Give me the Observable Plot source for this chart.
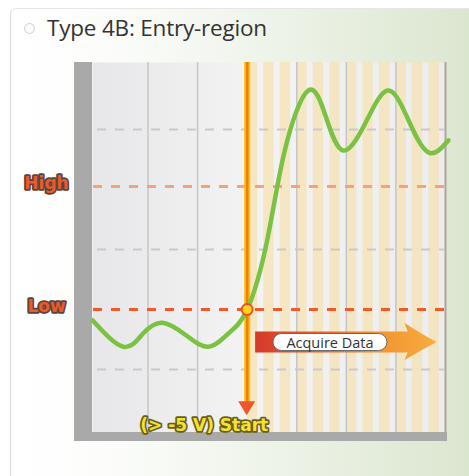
<!DOCTYPE html>
<html><head><meta charset="utf-8">
<script src="https://cdn.jsdelivr.net/npm/d3@7"></script>
<script src="https://cdn.jsdelivr.net/npm/@observablehq/plot@0.6"></script>
<style>
html,body{margin:0;padding:0;background:#fff;width:469px;height:476px;overflow:hidden;}
#card{position:absolute;left:10px;top:8px;width:459px;height:468px;border-left:1px solid #dadada;border-top:1px solid #e6e6e6;border-top-left-radius:6px;background:linear-gradient(to right,#ffffff 0%,#fcfdfb 20%,#eff4ea 55%,#dbe6cf 100%);}
#radio{position:absolute;left:24px;top:23px;width:9px;height:9px;border:1px solid #cfcfcf;border-radius:50%;background:#fbfbfb;}
#title{position:absolute;left:47px;top:12px;font:22.5px "Open Sans";color:#333;white-space:nowrap;letter-spacing:-0.2px;}
#chart{position:absolute;left:0;top:0;}
</style></head>
<body>
<div id="card"></div>
<div id="radio"></div>
<div id="title">Type 4B: Entry-region</div>
<div id="chart"></div>
<script>
// ---- data ----
const waveX = [-0.12, 0.50, 0.90, 1.29, 1.75, 2.22, 2.62, 3.00, 3.40, 3.75, 4.23, 4.60, 4.94, 5.38, 5.83, 6.24, 6.65, 7.06];
const waveY = [1.82, 1.38, 1.60, 1.78, 1.58, 1.38, 1.60, 2.00, 3.14, 4.62, 5.65, 5.18, 4.65, 5.10, 5.65, 5.18, 4.62, 4.82];
const gridX = [1, 2, 4, 5, 6];
const frameRightX = [7];
const grayLevels = [1, 3, 5];
const thresholdLabels = ["High", "Low"];
const thresholdValues = [4.05, 2];
const triggerX = 3;
const triggerY = 2;
const triggerArrow = [0.43, 0.23]; // line end, arrow tip
const startLabel = "(> -5 V) Start";
const stripeStarts = [3, 3.333, 3.667, 4, 4.333, 4.667, 5, 5.333, 5.667, 6, 6.333, 6.667];
const stripeWidth = 0.21;
const acquireLabel = "Acquire Data";
const acquireX = [3.17, 6.83];
const acquireY = [1.45];
const acquireLabelX = [4.68];

const thresholdColors = ["#f3a27c", "#f25a2a"];

// ---- render helpers ----
const defsMark = () => {
  const g = d3.create("svg:g");
  const defs = g.append("defs");
  const bg = defs.append("linearGradient").attr("id", "plotBg").attr("x1", 0).attr("x2", 1).attr("y1", 0).attr("y2", 0);
  bg.append("stop").attr("offset", "0%").attr("stop-color", "#e7e7e9");
  bg.append("stop").attr("offset", "45%").attr("stop-color", "#f3f3f4");
  bg.append("stop").attr("offset", "100%").attr("stop-color", "#ededef");
  const ag = defs.append("linearGradient").attr("id", "acqGrad").attr("x1", 0).attr("x2", 1).attr("y1", 0).attr("y2", 0);
  ag.append("stop").attr("offset", "0%").attr("stop-color", "#d43a2c");
  ag.append("stop").attr("offset", "25%").attr("stop-color", "#e2552a");
  ag.append("stop").attr("offset", "70%").attr("stop-color", "#f29530");
  ag.append("stop").attr("offset", "100%").attr("stop-color", "#f7ad40");
  return g.node();
};

const frameBars = (index, scales, values, dim) => {
  const g = d3.create("svg:g");
  const L = dim.marginLeft, B = dim.height - dim.marginBottom, R = dim.width - dim.marginRight, T = dim.marginTop;
  g.append("rect").attr("x", L - 18).attr("y", T).attr("width", 18).attr("height", B - T + 9).attr("fill", "#a9a9a9");
  g.append("rect").attr("x", L - 18).attr("y", B).attr("width", R - L + 20).attr("height", 9).attr("fill", "#a9a9a9");
  return g.node();
};

const triggerHead = (index, scales) => {
  const X = scales.x(triggerX), Y0 = scales.y(triggerArrow[0]), Y1 = scales.y(triggerArrow[1]);
  return d3.create("svg:path")
    .attr("d", `M${X - 8.5},${Y0 - 2} L${X + 8.5},${Y0 - 2} L${X},${Y1} Z`)
    .attr("fill", "#f0562a").node();
};

const acquireArrow = (index, scales) => {
  const X1 = scales.x(acquireX[0]), X2 = scales.x(acquireX[1]), Y = scales.y(acquireY[0]);
  const hb = X2 - 29;
  const g = d3.create("svg:g");
  g.append("path")
    .attr("d", `M${X1},${Y - 10.5} L${hb},${Y - 10.5} L${hb - 3},${Y - 19} Q${hb + 14},${Y - 8} ${X2},${Y} Q${hb + 14},${Y + 8} ${hb - 3},${Y + 18} L${hb},${Y + 10.5} L${X1},${Y + 10.5} Z`)
    .attr("fill", "url(#acqGrad)");
  const CX = scales.x(acquireLabelX[0]);
  g.append("rect").attr("x", CX - 57).attr("y", Y - 8.5).attr("width", 114).attr("height", 17)
    .attr("rx", 8.5).attr("fill", "#ffffff").attr("stroke", "#6a6a6a").attr("stroke-width", 1);
  g.append("text").attr("x", CX).attr("y", Y + 0.5).attr("text-anchor", "middle").attr("dominant-baseline", "central")
    .attr("font-family", "Open Sans").attr("font-size", 14.5).attr("fill", "#333").text(acquireLabel);
  return g.node();
};

const wave = waveX.map((x, i) => ({x, y: waveY[i]}));

const chart = Plot.plot({
  width: 469, height: 476,
  marginLeft: 92, marginRight: 24, marginTop: 62, marginBottom: 44,
  x: {domain: [-0.12, 7], axis: null},
  y: {domain: [-0.05, 6.117], axis: null},
  style: {background: "transparent", overflow: "visible"},
  marks: [
    defsMark,
    Plot.frame({fill: "url(#plotBg)", stroke: null}),
    Plot.rect(stripeStarts, {x1: d => d, x2: d => d + stripeWidth, fill: "#f6e0a4", fillOpacity: 0.6}),
    Plot.ruleX(gridX, {stroke: "#c6c6c6", strokeWidth: 1.5}),
    Plot.ruleX(frameRightX, {stroke: "#aea693", strokeWidth: 2}),
    Plot.ruleY(grayLevels, {x1: -0.02, x2: 7, stroke: "#c9c9c9", strokeWidth: 2, strokeDasharray: "9,9"}),
    Plot.ruleY(thresholdValues, {x1: -0.1, x2: 7, stroke: (d, i) => thresholdColors[i], strokeWidth: 3, strokeDasharray: "9,9"}),
    frameBars,
    Plot.ruleX([triggerX], {y1: triggerArrow[0], y2: 6.117, stroke: "#fabd10", strokeWidth: 6}),
    Plot.ruleX([triggerX], {y1: triggerArrow[0], y2: 6.117, stroke: "#f08000", strokeWidth: 2.5}),
    triggerHead,
    Plot.line(wave, {x: "x", y: "y", stroke: "#7cc242", strokeWidth: 4.5, curve: "natural"}),
    acquireArrow,
    Plot.dot([{x: triggerX, y: triggerY}], {x: "x", y: "y", r: 5.5, fill: "#ffd21f", stroke: "#e8501e", strokeWidth: 1.8}),
    Plot.text(thresholdLabels, {y: (d, i) => thresholdValues[i], frameAnchor: "left", dx: -46, dy: -3, text: d => d,
      textAnchor: "middle", fill: "#ec5a28", stroke: "#5a4440", strokeWidth: 3.5, paintOrder: "stroke",
      fontSize: 17, fontWeight: "bold", fontFamily: "DejaVu Sans", letterSpacing: -0.5}),
    Plot.text([startLabel], {x: triggerX, frameAnchor: "bottom", dy: -7, dx: 21, text: d => d, textAnchor: "end", lineAnchor: "middle",
      fill: "#f3e330", stroke: "#6b5d1c", strokeWidth: 3.5, paintOrder: "stroke",
      fontSize: 17, fontWeight: "bold", fontFamily: "DejaVu Sans", letterSpacing: -0.5})
  ]
});
document.getElementById("chart").appendChild(chart);
</script>
</body></html>
